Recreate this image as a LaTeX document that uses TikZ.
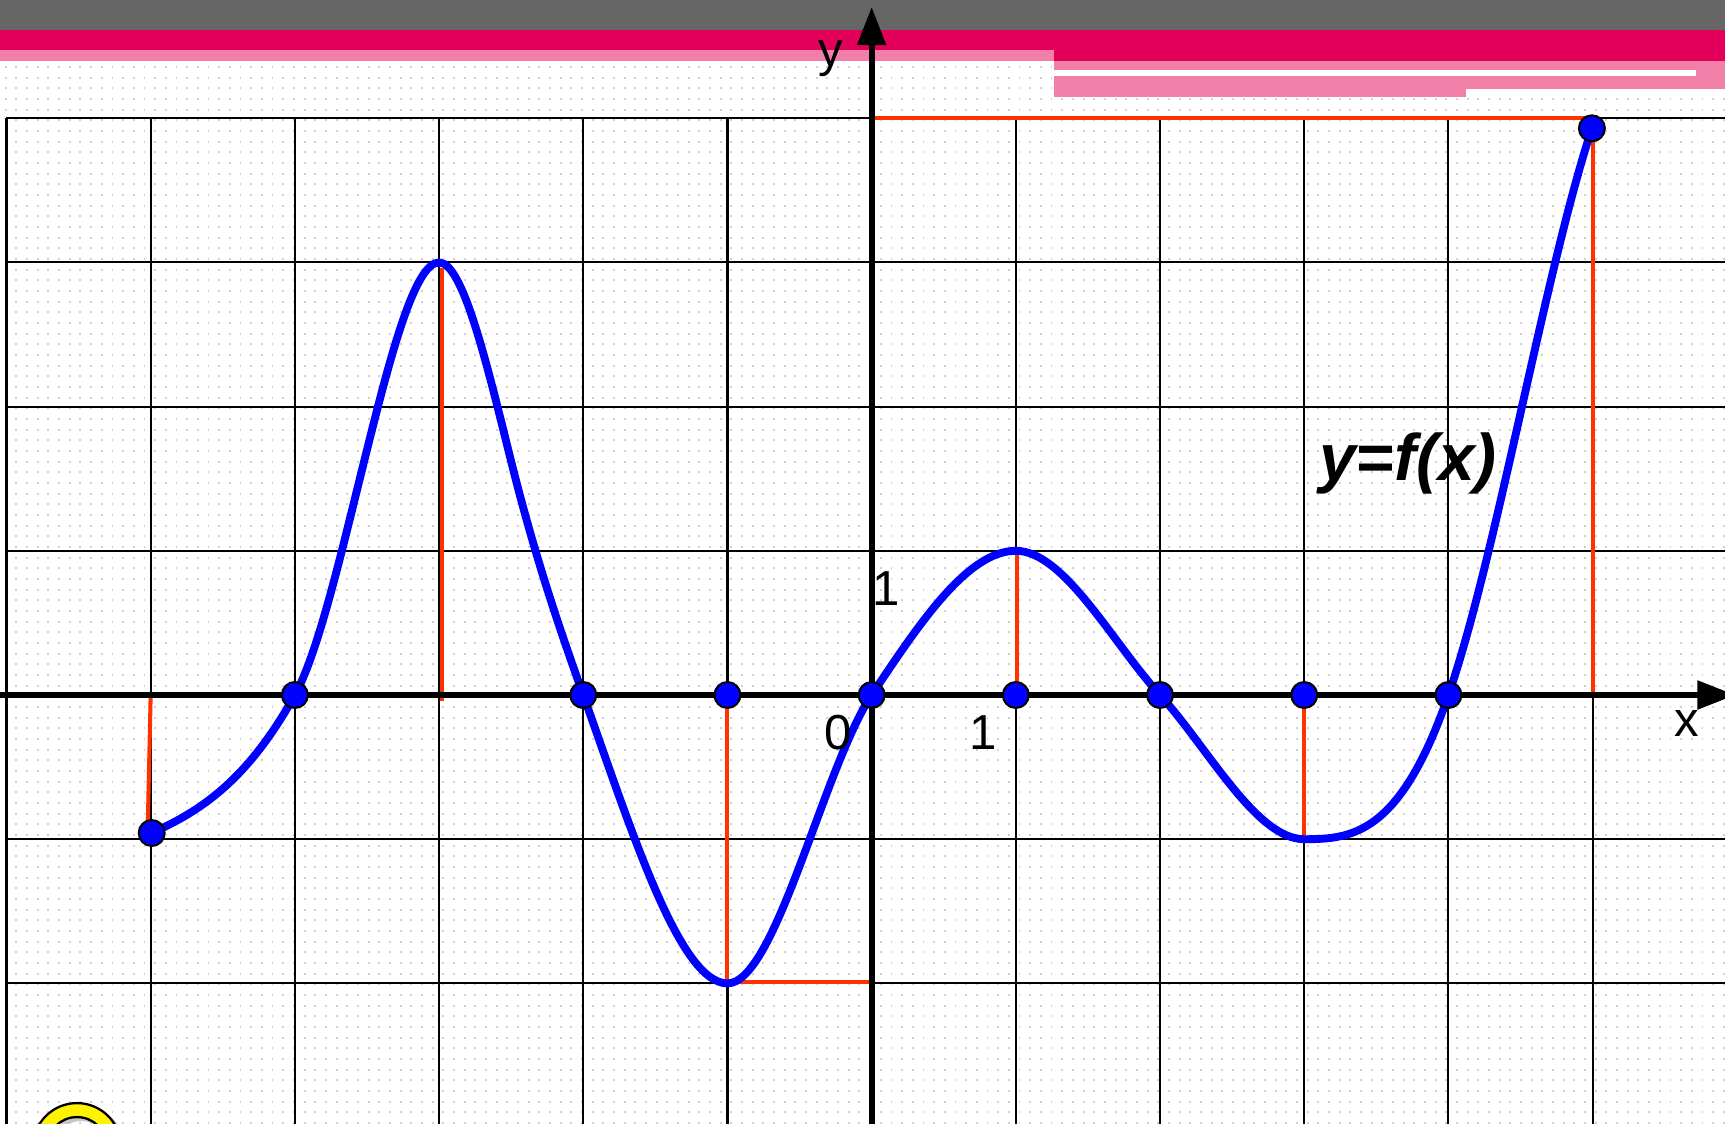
\documentclass[tikz,border=0pt]{standalone}
\usepackage{fontspec}
\setmainfont{Liberation Sans}
\usetikzlibrary{arrows.meta}
\definecolor{hdrgray}{RGB}{102,102,102}
\definecolor{crimson}{RGB}{226,0,90}
\definecolor{hpink}{RGB}{240,128,168}
\definecolor{redline}{RGB}{255,51,0}
\definecolor{dotgray}{RGB}{208,208,208}
\tikzset{
 gridline/.style={black, line width=0.42pt},
 axisline/.style={black, line width=1.15pt, -{Triangle[length=7.5pt,width=5.5pt]}},
 markline/.style={redline, line width=0.8pt},
 graph/.style={blue, line width=1.55pt, line join=round},
 gpt/.style={circle, fill=blue, draw=black, line width=0.4pt, minimum size=0.18cm, inner sep=0pt},
 lab/.style={font=\fontsize{9.7}{11}\selectfont, inner sep=0pt, anchor=base},
}
\begin{document}
\begin{tikzpicture}
\useasboundingbox (-6.045,-2.975) rectangle (5.918,4.820);
\clip (-6.045,-2.975) rectangle (5.918,4.820);
\fill[white] (-6.045,-2.975) rectangle (5.918,4.820);
% dotted background
\foreach \i in {0,...,162} {
  \draw[dotgray, line width=0.38pt, dash pattern=on 0.38pt off 1.725pt]
    ({-6.005+0.074*\i}, -2.975) -- ({-6.005+0.074*\i}, 4.82);
}
% grid
\foreach \x in {-6,...,5} \draw[gridline] (\x,-2.975) -- (\x,4);
\foreach \y in {-2,...,4} \draw[gridline] (-6,\y) -- (5.918,\y);
% header bands
\fill[hdrgray] (-6.045,4.612) rectangle (5.918,4.82);
\fill[crimson] (-6.045,4.473) rectangle (5.918,4.612);
\fill[crimson] (1.265,4.397) rectangle (5.918,4.473);
\fill[hpink] (-6.045,4.397) rectangle (1.265,4.473);
\fill[hpink] (1.265,4.2025) rectangle (5.918,4.397);
\fill[white] (1.265,4.293) rectangle (5.717,4.334);
\fill[hpink] (1.265,4.147) rectangle (4.122,4.2025);
% yellow ring (partly visible)
\fill[black!22, even odd rule] (-5.48,-3.16) circle (0.31) (-5.48,-3.16) circle (0.205);
\filldraw[fill=yellow, draw=black, line width=0.45pt, even odd rule]
  (-5.511,-3.135) circle (0.305) (-5.511,-3.135) circle (0.208);
% key points of the graph
\coordinate (A) at (-4.993,-0.957);
\coordinate (B) at (-4,0);
\coordinate (P) at (-3.5,1.7);
\coordinate (C) at (-3,3);
\coordinate (Q) at (-2.5,1.62);
\coordinate (D) at (-2,0);
\coordinate (E) at (-1,-2);
\coordinate (M) at (-1,0);
\coordinate (F) at (0,0);
\coordinate (G) at (1,1);
\coordinate (N) at (1,0);
\coordinate (H) at (2,0);
\coordinate (I) at (3,-1);
\coordinate (R) at (3,0);
\coordinate (J) at (4,0);
\coordinate (K) at (4.995,3.93);
% red marker lines
\draw[markline] (-5,0) -- (-5.02,-0.9);
\draw[markline] (-2.98,-0.04) -- (-2.98,2.96);
\draw[markline] (-1,-0.1) -- (-1,-1.99) -- (0,-1.99);
\draw[markline] (1.005,0) -- (1.005,0.97);
\draw[markline] (3,-0.05) -- (3,-0.98);
\draw[markline] (0,4) -- (4.98,4);
\draw[markline] (5.0,3.9) -- (5.0,0);
% axes
\draw[axisline] (-6.045,0) -- (5.99,0);
\draw[axisline] (0,-2.975) -- (0,4.771);
% graph
\draw[graph] (A) .. controls (-4.66,-0.807) and (-4.3333,-0.6) .. (B)
  .. controls (-3.8333,0.3) and (-3.6667,1.0333) .. (P)
  .. controls (-3.3333,2.3667) and (-3.1667,3) .. (C)
  .. controls (-2.8333,3) and (-2.6667,2.2867) .. (Q)
  .. controls (-2.3333,0.9533) and (-2.1667,0.4667) .. (D)
  .. controls (-1.6667,-0.9333) and (-1.3333,-2) .. (E)
  .. controls (-0.6667,-2) and (-0.3333,-0.5) .. (F)
  .. controls (0.3333,0.5) and (0.6667,1) .. (G)
  .. controls (1.3333,1) and (1.6667,0.3667) .. (H)
  .. controls (2.3333,-0.3667) and (2.6667,-1) .. (I)
  .. controls (3.3333,-1) and (3.6667,-0.9667) .. (J)
  .. controls (4.3333,0.9667) and (4.6667,2.93) .. (K);
% points
\node[gpt] (pA) at (A) {};
\node[gpt] (pB) at (B) {};
\node[gpt] (pD) at (D) {};
\node[gpt] (pM) at (M) {};
\node[gpt] (pF) at (F) {};
\node[gpt] (pN) at (N) {};
\node[gpt] (pH) at (H) {};
\node[gpt] (pR) at (R) {};
\node[gpt] (pJ) at (J) {};
\node[gpt] (pK) at (K) {};
% labels
\node[lab] (ylab) at (-0.282,4.362) {y};
\node[lab] (xlab) at (5.655,-0.291) {x};
\node[lab] (oney) at (0.098,0.624) {1};
\node[lab] (onex) at (0.772,-0.381) {1};
\node[lab] (zero) at (-0.234,-0.381) {0};
\node[font=\fontsize{13}{15}\selectfont\bfseries\itshape, anchor=base, inner sep=0pt] (fx) at (3.72,1.491) {y=f(x)};
\end{tikzpicture}
\end{document}
